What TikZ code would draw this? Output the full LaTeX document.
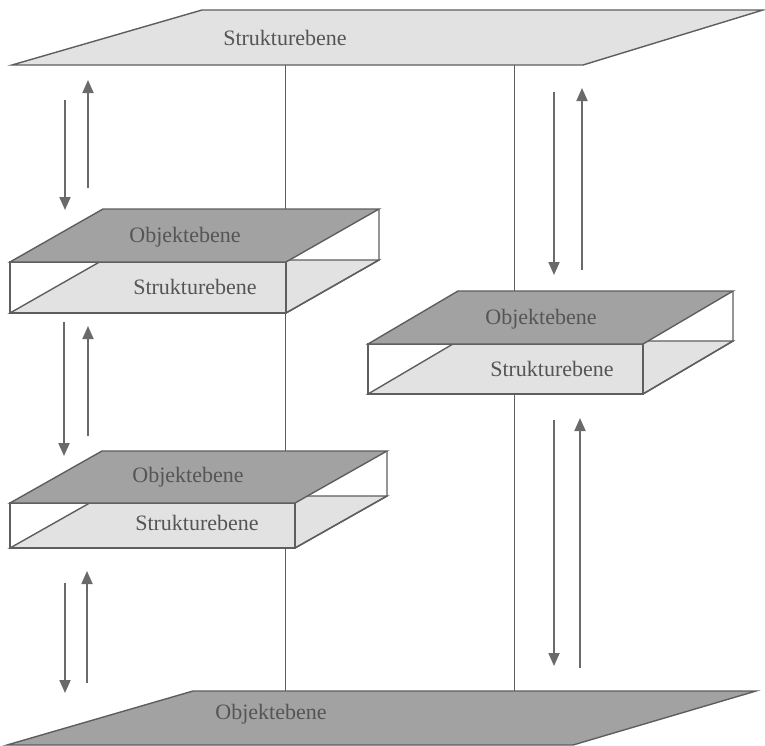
\documentclass[tikz,border=0pt]{standalone}
\usepackage{fontspec}
\setmainfont{Liberation Serif}
\usetikzlibrary{arrows.meta}

\definecolor{edge}{HTML}{5E5E5E}
\definecolor{darkface}{HTML}{A2A2A2}
\definecolor{lightface}{HTML}{E2E2E2}
\definecolor{label}{HTML}{555555}
\definecolor{arrowgray}{HTML}{6A6A6A}

\tikzset{
  planeedge/.style={draw=edge, line width=1.4pt, line join=miter},
  link/.style={draw=edge, line width=1pt},
  flow/.style={draw=arrowgray, line width=1.8pt, -{Triangle[width=11pt,length=13pt]}},
  lbl/.style={text=label, font=\fontsize{22}{26}\selectfont, inner sep=0pt},
}

% slab: front-left x, front-right x, front top y, front bottom y, depth dx, depth dy
\newcommand\drawslab[6]{%
  % opaque silhouette hides the links running behind the slab
  \fill[white] (#1,#4) -- (#2,#4) -- ({#2+#5},{#4-#6}) -- ({#2+#5},{#3-#6})
     -- ({#1+#5},{#3-#6}) -- (#1,#3) -- cycle;
  % lower plane seen through the open box
  \filldraw[planeedge, fill=lightface] (#1,#4) -- (#2,#4) -- ({#2+#5},{#4-#6})
     -- ({#1+#5},{#4-#6}) -- cycle;
  % front and side outlines
  \draw[planeedge] (#1,#3) rectangle (#2,#4);
  \draw[planeedge] (#2,#4) -- ({#2+#5},{#4-#6}) -- ({#2+#5},{#3-#6});
  % upper plane
  \filldraw[planeedge, fill=darkface] (#1,#3) -- (#2,#3) -- ({#2+#5},{#3-#6})
     -- ({#1+#5},{#3-#6}) -- cycle;
}

\begin{document}
\begin{tikzpicture}[x=1pt, y=-1pt]
\useasboundingbox (0,0) rectangle (765,745);
\fill[white] (0,0) rectangle (765,745);

% vertical links between top and bottom plane
\coordinate (la) at (285,65);  \coordinate (lb) at (285,691);
\coordinate (ra) at (514,65);  \coordinate (rb) at (514,691);
\draw[link] (la) -- (lb);
\draw[link] (ra) -- (rb);

% top plane
\filldraw[planeedge, fill=lightface] (12,65) -- (583,65) -- (763,10) -- (202,10) -- cycle;
\node[lbl] (top) at (285,38) {Strukturebene};

% bottom plane
\filldraw[planeedge, fill=darkface] (7,745) -- (573,745) -- (756,691) -- (193,691) -- cycle;
\node[lbl] (bottom) at (271,714) {Objektebene};

% left upper slab
\drawslab{10}{286}{262}{313}{93}{53}
\node[lbl] (o1) at (185,237) {Objektebene};
\node[lbl] (s1) at (195,287) {Strukturebene};

% left lower slab
\drawslab{10}{295}{503}{548}{92}{52}
\node[lbl] (o2) at (188,477) {Objektebene};
\node[lbl] (s2) at (197,523) {Strukturebene};

% right slab
\drawslab{368}{643}{344}{394}{90}{53}
\node[lbl] (o3) at (541,319) {Objektebene};
\node[lbl] (s3) at (552,369) {Strukturebene};

% exchange arrows, left column
\coordinate (d1a) at (65,100);  \coordinate (d1b) at (65,210);
\coordinate (u1a) at (88,188);  \coordinate (u1b) at (88,80);
\coordinate (d2a) at (64,322);  \coordinate (d2b) at (64,456);
\coordinate (u2a) at (88,436);  \coordinate (u2b) at (88,326);
\coordinate (d3a) at (65,583);  \coordinate (d3b) at (65,693);
\coordinate (u3a) at (87,683);  \coordinate (u3b) at (87,571);
% exchange arrows, right column
\coordinate (d4a) at (554,92);  \coordinate (d4b) at (554,275);
\coordinate (u4a) at (582,270); \coordinate (u4b) at (582,88);
\coordinate (d5a) at (554,420); \coordinate (d5b) at (554,666);
\coordinate (u5a) at (580,668); \coordinate (u5b) at (580,418);

\foreach \a/\b in {d1a/d1b,u1a/u1b,d2a/d2b,u2a/u2b,d3a/d3b,u3a/u3b,
                   d4a/d4b,u4a/u4b,d5a/d5b,u5a/u5b}
  \draw[flow] (\a) -- (\b);
\end{tikzpicture}
\end{document}
